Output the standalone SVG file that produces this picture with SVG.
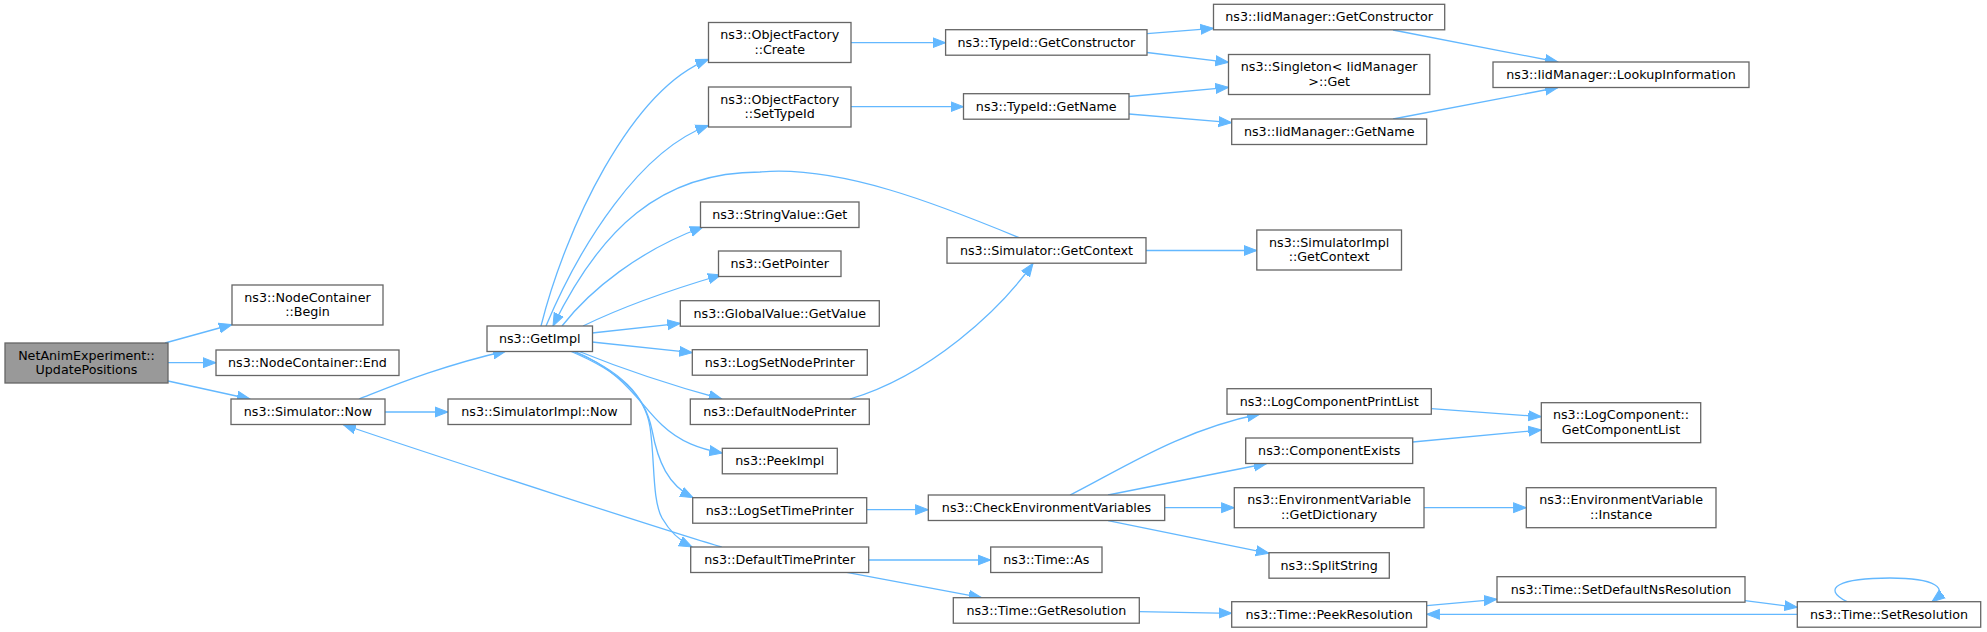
<svg xmlns="http://www.w3.org/2000/svg" width="1987" height="632" viewBox="0 0 1987 632">
<style>
.n rect{fill:#ffffff;stroke:#666666;stroke-width:1.3}
.n.root rect{fill:#999999}
.n text{font-family:"DejaVu Sans","Liberation Sans",sans-serif;font-size:12.7px;fill:#000000;text-anchor:middle}
.e path{fill:none;stroke:#63b8ff;stroke-width:1.3;marker-end:url(#ah)}
</style>
<defs>
<marker id="ah" markerUnits="userSpaceOnUse" markerWidth="14" markerHeight="12" refX="13" refY="5" orient="auto" viewBox="0 0 14 10">
<path d="M0,0 L13,5 L0,10 z" fill="#63b8ff" stroke="#63b8ff" stroke-width="1"/>
</marker>
</defs>
<rect width="1987" height="632" fill="#ffffff"/>
<g id="edges" class="e">
<path d="M165,343 L232,324.5"/>
<path d="M168,362.7 L216,362.7"/>
<path d="M168,381 L250,399"/>
<path d="M359,399 C390,387 440,366 506,351"/>
<path d="M385,412 L448,412"/>
<path d="M721.7,547 C690,538 450,461 343,424.5"/>
<path d="M541,326 C565,230 630,90 708.5,59.3"/>
<path d="M546,326 C580,245 640,150 708.5,125.5"/>
<path d="M1020,238 C940,205 840,165 760,172 C660,172 600,230 553,326"/>
<path d="M562,326 C590,290 640,250 703,227"/>
<path d="M583,326 C620,308 670,290 721,275"/>
<path d="M592,333 L680.3,323.3"/>
<path d="M592,342 L692.3,352.7"/>
<path d="M578,351 C620,368 670,385 721.7,399"/>
<path d="M574,351 C625,372 640,405 662,425 C680,442 700,449 722.3,453"/>
<path d="M572,351 C620,370 645,395 652,430 C658,462 668,485 693,497.7"/>
<path d="M570,351 C620,372 645,395 650,427 C655,460 652,500 662,518 C670,532 680,541 692,547"/>
<path d="M850,399 C930,375 1000,310 1033,263.5"/>
<path d="M1146,250.5 L1256.8,250.5"/>
<path d="M851,42.7 L945.6,42.7"/>
<path d="M851,106.7 L963.5,106.7"/>
<path d="M1147,33.7 L1213.5,28.3"/>
<path d="M1147,52.5 L1228.5,62.3"/>
<path d="M1129,96.5 L1228.5,87.3"/>
<path d="M1129,114 L1231.7,122.7"/>
<path d="M1393,30 L1558,62"/>
<path d="M1393,119 L1558,87.5"/>
<path d="M866.7,509.7 L928.3,509.7"/>
<path d="M1070,495 C1120,470 1180,430 1260,414"/>
<path d="M1108,495 L1266.7,463.5"/>
<path d="M1164.7,507.7 L1234.3,507.7"/>
<path d="M1108,520.7 L1269,553.3"/>
<path d="M1431.3,408.7 L1541.3,416.7"/>
<path d="M1412.7,442 L1541.3,430"/>
<path d="M1424,507.7 L1526.3,507.7"/>
<path d="M868.7,560 L990.7,560"/>
<path d="M846.7,572.3 L981.7,597.7"/>
<path d="M1139.3,611.7 L1231.7,613.3"/>
<path d="M1426.7,605.7 L1497,599.3"/>
<path d="M1797.3,614.3 L1426.7,614.3"/>
<path d="M1745,600.7 L1797.3,607.3"/>
<path d="M1847,601.7 C1820,588 1840,578 1890,578 C1935,578 1950,588 1932,601.7"/>
</g>
<g id="n_root" class="n root"><rect x="5" y="343" width="163" height="40"/><text x="86.5" y="359.7">NetAnimExperiment::</text><text x="86.5" y="374">UpdatePositions</text></g>
<g id="n_nc_begin" class="n"><rect x="232" y="285" width="151" height="40"/><text x="307.5" y="301.7">ns3::NodeContainer</text><text x="307.5" y="316">::Begin</text></g>
<g id="n_nc_end" class="n"><rect x="216" y="350" width="183" height="25.5"/><text x="307.5" y="367">ns3::NodeContainer::End</text></g>
<g id="n_sim_now" class="n"><rect x="231" y="399" width="154" height="25.5"/><text x="308" y="416">ns3::Simulator::Now</text></g>
<g id="n_simimpl_now" class="n"><rect x="448" y="399" width="183" height="25.5"/><text x="539.5" y="416">ns3::SimulatorImpl::Now</text></g>
<g id="n_getimpl" class="n"><rect x="487" y="326" width="105.5" height="25.5"/><text x="539.75" y="343">ns3::GetImpl</text></g>
<g id="n_of_create" class="n"><rect x="708.5" y="22.5" width="142.5" height="40"/><text x="779.75" y="39.2">ns3::ObjectFactory</text><text x="779.75" y="53.5">::Create</text></g>
<g id="n_of_settypeid" class="n"><rect x="708.5" y="87" width="142.5" height="40"/><text x="779.75" y="103.7">ns3::ObjectFactory</text><text x="779.75" y="118">::SetTypeId</text></g>
<g id="n_stringvalue" class="n"><rect x="700.5" y="202" width="158.5" height="25.5"/><text x="779.75" y="219">ns3::StringValue::Get</text></g>
<g id="n_getpointer" class="n"><rect x="718.5" y="251" width="122.5" height="25.5"/><text x="779.75" y="268">ns3::GetPointer</text></g>
<g id="n_globalvalue" class="n"><rect x="680.3" y="300.7" width="199" height="25.5"/><text x="779.8" y="317.7">ns3::GlobalValue::GetValue</text></g>
<g id="n_logsetnodeprinter" class="n"><rect x="692.3" y="349.7" width="175" height="25.5"/><text x="779.8" y="366.7">ns3::LogSetNodePrinter</text></g>
<g id="n_defaultnodeprinter" class="n"><rect x="690.3" y="399" width="179" height="25.5"/><text x="779.8" y="416">ns3::DefaultNodePrinter</text></g>
<g id="n_peekimpl" class="n"><rect x="722.3" y="448.3" width="115" height="25.5"/><text x="779.8" y="465.3">ns3::PeekImpl</text></g>
<g id="n_logsettimeprinter" class="n"><rect x="692.7" y="497.7" width="174" height="25.5"/><text x="779.7" y="514.7">ns3::LogSetTimePrinter</text></g>
<g id="n_defaulttimeprinter" class="n"><rect x="690.7" y="547" width="178" height="25.5"/><text x="779.7" y="564">ns3::DefaultTimePrinter</text></g>
<g id="n_typeid_getconstructor" class="n"><rect x="945.6" y="29.7" width="201.4" height="25.5"/><text x="1046.3" y="46.7">ns3::TypeId::GetConstructor</text></g>
<g id="n_typeid_getname" class="n"><rect x="963.5" y="93.7" width="165.5" height="25.5"/><text x="1046.25" y="110.7">ns3::TypeId::GetName</text></g>
<g id="n_sim_getcontext" class="n"><rect x="947" y="237.7" width="199" height="25.5"/><text x="1046.5" y="254.7">ns3::Simulator::GetContext</text></g>
<g id="n_checkenv" class="n"><rect x="928.3" y="495" width="236.4" height="25.5"/><text x="1046.5" y="512">ns3::CheckEnvironmentVariables</text></g>
<g id="n_time_as" class="n"><rect x="990.7" y="547" width="111.3" height="25.5"/><text x="1046.35" y="564">ns3::Time::As</text></g>
<g id="n_time_getresolution" class="n"><rect x="953.3" y="597.7" width="186" height="25.5"/><text x="1046.3" y="614.7">ns3::Time::GetResolution</text></g>
<g id="n_iid_getconstructor" class="n"><rect x="1213.5" y="4.3" width="231.2" height="25.5"/><text x="1329.1" y="21.3">ns3::IidManager::GetConstructor</text></g>
<g id="n_singleton" class="n"><rect x="1228.5" y="54.5" width="201.3" height="40"/><text x="1329.15" y="71.2">ns3::Singleton&lt; IidManager</text><text x="1329.15" y="85.5"> &gt;::Get</text></g>
<g id="n_iid_getname" class="n"><rect x="1231.7" y="119" width="195" height="25.5"/><text x="1329.2" y="136">ns3::IidManager::GetName</text></g>
<g id="n_simimpl_getcontext" class="n"><rect x="1256.8" y="230" width="144.7" height="40"/><text x="1329.15" y="246.7">ns3::SimulatorImpl</text><text x="1329.15" y="261">::GetContext</text></g>
<g id="n_logcomponentprintlist" class="n"><rect x="1227" y="388.7" width="204.3" height="25.5"/><text x="1329.15" y="405.7">ns3::LogComponentPrintList</text></g>
<g id="n_componentexists" class="n"><rect x="1245.7" y="438" width="167" height="25.5"/><text x="1329.2" y="455">ns3::ComponentExists</text></g>
<g id="n_envvar_getdictionary" class="n"><rect x="1234.3" y="487.7" width="189.7" height="40"/><text x="1329.15" y="504.4">ns3::EnvironmentVariable</text><text x="1329.15" y="518.7">::GetDictionary</text></g>
<g id="n_splitstring" class="n"><rect x="1269" y="552.7" width="120.3" height="25.5"/><text x="1329.15" y="569.7">ns3::SplitString</text></g>
<g id="n_time_peekresolution" class="n"><rect x="1231.7" y="601.7" width="195" height="25.5"/><text x="1329.2" y="618.7">ns3::Time::PeekResolution</text></g>
<g id="n_iid_lookupinformation" class="n"><rect x="1493" y="62" width="256" height="25.5"/><text x="1621" y="79">ns3::IidManager::LookupInformation</text></g>
<g id="n_logcomponent_getcomponentlist" class="n"><rect x="1541.3" y="402.7" width="159.4" height="40"/><text x="1621" y="419.4">ns3::LogComponent::</text><text x="1621" y="433.7">GetComponentList</text></g>
<g id="n_envvar_instance" class="n"><rect x="1526.3" y="487.7" width="189.7" height="40"/><text x="1621.15" y="504.4">ns3::EnvironmentVariable</text><text x="1621.15" y="518.7">::Instance</text></g>
<g id="n_time_setdefaultnsresolution" class="n"><rect x="1497" y="576.7" width="248" height="25.5"/><text x="1621" y="593.7">ns3::Time::SetDefaultNsResolution</text></g>
<g id="n_time_setresolution" class="n"><rect x="1797.3" y="601.7" width="183.4" height="25.5"/><text x="1889" y="618.7">ns3::Time::SetResolution</text></g>
</svg>
